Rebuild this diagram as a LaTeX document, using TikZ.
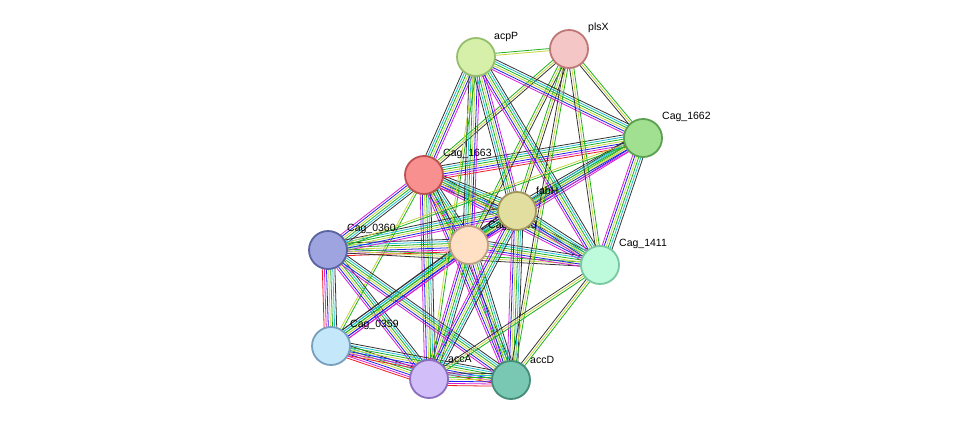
\documentclass[tikz,border=0pt]{standalone}
\usepackage{fontspec}
\setmainfont{Liberation Sans}
\usetikzlibrary{calc}
\definecolor{cY}{HTML}{C8D640}
\definecolor{cG}{HTML}{1FB21F}
\definecolor{cB}{HTML}{1F1FF0}
\definecolor{cC}{HTML}{20C0D8}
\definecolor{cM}{HTML}{D81FD8}
\definecolor{cK}{HTML}{333333}
\definecolor{cR}{HTML}{F01F1F}
\newcommand\edg[3]{\foreach \cc [count=\i] in #3{%
  \pgfmathsetmacro\o{(mod(\i,2)==0?1:-1)*int(\i/2)*2.1}%
  \draw[line width=0.8pt,color=\cc] ($(#1)!\o pt!90:(#2)$) -- ($(#2)!\o pt!-90:(#1)$);}}
\tikzset{prot/.style={circle,draw,line width=1.8pt,minimum size=38pt,inner sep=0pt},
 lab/.style={font=\fontsize{10.5}{11}\selectfont,anchor=south west,inner sep=1pt}}
\begin{document}
\begin{tikzpicture}[x=1pt,y=-1pt]
\useasboundingbox[fill=white] (0,0) rectangle (976,426);
\coordinate (acpP) at (476,57);
\coordinate (plsX) at (569,49);
\coordinate (c1662) at (643,138);
\coordinate (c1663) at (424,175);
\coordinate (fabH) at (517,211);
\coordinate (c1660) at (469,245);
\coordinate (c0360) at (328,250);
\coordinate (c1411) at (600,265);
\coordinate (c0359) at (331,346);
\coordinate (accA) at (429,379);
\coordinate (accD) at (511,380);
% edges
\def\F{cY,cG,cB,cC,cM,cK}
\def\FR{cY,cG,cB,cC,cM,cK,cR}
\def\S{cY,cG,cK}
\def\T{cY,cG}
\edg{c1663}{c1660}{\FR}
\edg{c1663}{fabH}{\FR}
\edg{c1663}{c0360}{\F}
\edg{c1663}{accA}{\F}
\edg{c1663}{accD}{\F}
\edg{c1663}{c1662}{\FR}
\edg{c1663}{acpP}{\F}
\edg{c1663}{c1411}{\F}
\edg{c1663}{c0359}{\T}
\edg{c1663}{plsX}{\S}
\edg{c0360}{c1660}{\FR}
\edg{c0360}{accA}{\F}
\edg{c0360}{accD}{\F}
\edg{c0360}{c0359}{\FR}
\edg{c0360}{fabH}{\F}
\edg{c0360}{c1411}{\S}
\edg{c0359}{accA}{\FR}
\edg{c0359}{accD}{\FR}
\edg{c0359}{c1660}{\F}
\edg{c0359}{fabH}{\F}
\edg{accA}{accD}{\FR}
\edg{c1660}{accA}{\F}
\edg{c1660}{accD}{\F}
\edg{c1660}{fabH}{\F}
\edg{c1660}{c1411}{\F}
\edg{c1660}{c1662}{\F}
\edg{c1660}{acpP}{\F}
\edg{c1660}{plsX}{\S}
\edg{fabH}{accA}{\F}
\edg{fabH}{accD}{\F}
\edg{fabH}{c1662}{\F}
\edg{fabH}{acpP}{\F}
\edg{fabH}{c1411}{\F}
\edg{fabH}{plsX}{\S}
\edg{acpP}{plsX}{\T}
\edg{acpP}{c1662}{\F}
\edg{acpP}{c1411}{\F}
\edg{acpP}{accA}{\T}
\edg{plsX}{c1662}{\S}
\edg{plsX}{c1411}{\S}
\edg{plsX}{accD}{\S}
\edg{c1662}{c1411}{\F}
\edg{c1662}{c0360}{\T}
\edg{c1411}{accA}{\S}
\edg{c1411}{accD}{\S}
% labels first (covered by nodes)
\node[lab] at (487,232) {Cag\_1660};
% nodes
\node[prot,fill={rgb,255:red,214;green,240;blue,170},draw={rgb,255:red,150;green,190;blue,110}] (n1) at (acpP) {};
\node[prot,fill={rgb,255:red,245;green,198;blue,198},draw={rgb,255:red,190;green,120;blue,120}] (n2) at (plsX) {};
\node[prot,fill={rgb,255:red,160;green,224;blue,144},draw={rgb,255:red,90;green,160;blue,80}] (n3) at (c1662) {};
\node[prot,fill={rgb,255:red,248;green,144;blue,144},draw={rgb,255:red,190;green,80;blue,80}] (n4) at (c1663) {};
\node[prot,fill={rgb,255:red,255;green,224;blue,196},draw={rgb,255:red,190;green,160;blue,130}] (n6) at (c1660) {};
\node[prot,fill={rgb,255:red,226;green,222;blue,160},draw={rgb,255:red,160;green,150;blue,90}] (n5) at (fabH) {};
\node[prot,fill={rgb,255:red,158;green,164;blue,224},draw={rgb,255:red,90;green,100;blue,160}] (n7) at (c0360) {};
\node[prot,fill={rgb,255:red,190;green,250;blue,220},draw={rgb,255:red,120;green,200;blue,160}] (n8) at (c1411) {};
\node[prot,fill={rgb,255:red,196;green,232;blue,250},draw={rgb,255:red,120;green,160;blue,190}] (n9) at (c0359) {};
\node[prot,fill={rgb,255:red,210;green,190;blue,248},draw={rgb,255:red,140;green,110;blue,190}] (n10) at (accA) {};
\node[prot,fill={rgb,255:red,120;green,200;blue,180},draw={rgb,255:red,70;green,140;blue,120}] (n11) at (accD) {};
\node[lab] at (493,43) {acpP};
\node[lab] at (587,34) {plsX};
\node[lab] at (661,123) {Cag\_1662};
\node[lab] at (442,160) {Cag\_1663};
\node[lab] at (535,196) {fabH};
\node[lab] at (346,235) {Cag\_0360};
\node[lab] at (618,250) {Cag\_1411};
\node[lab] at (349,331) {Cag\_0359};
\node[lab] at (447,364) {accA};
\node[lab] at (529,365) {accD};
\end{tikzpicture}
\end{document}
